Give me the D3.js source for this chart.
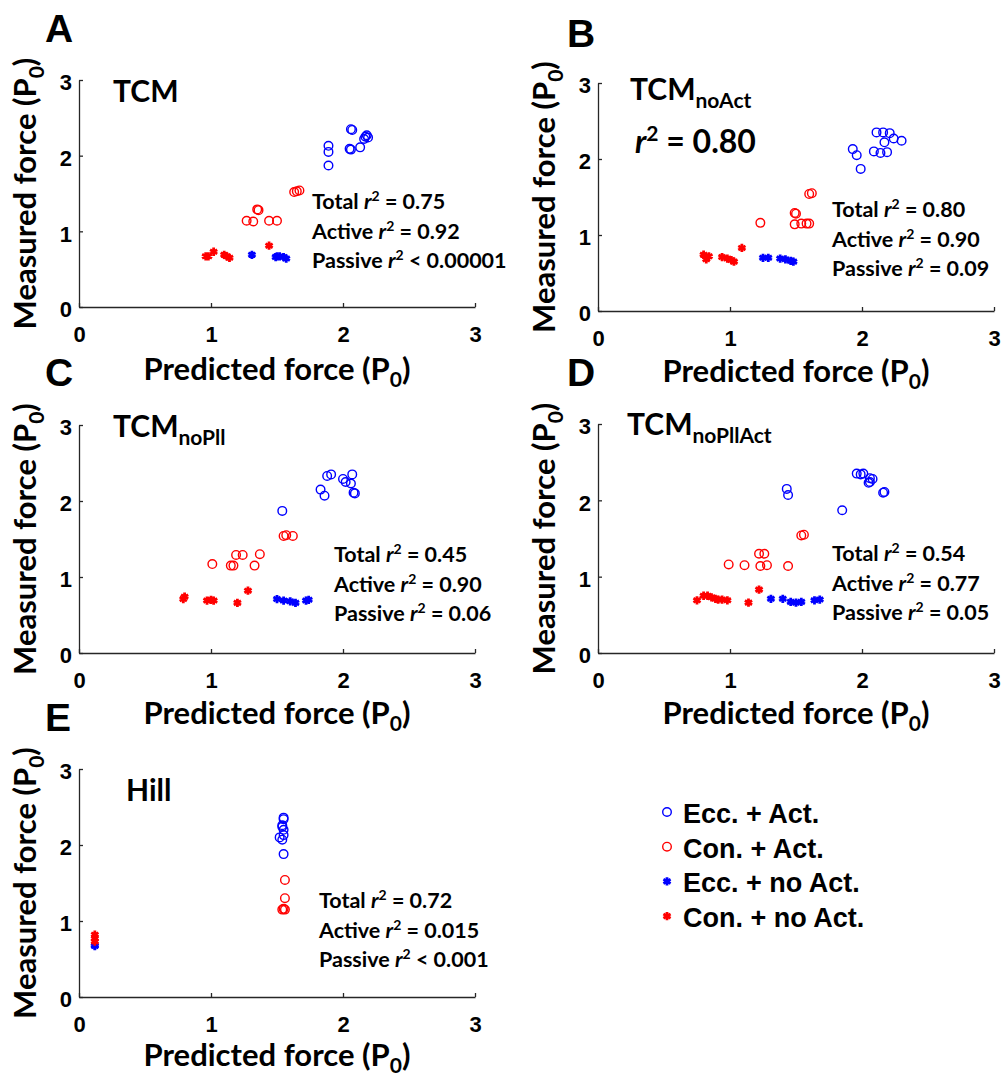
<!DOCTYPE html>
<html>
<head>
<meta charset="utf-8">
<script src="https://cdn.jsdelivr.net/npm/d3@7"></script>
<style>
  body { margin: 0; background: #fff; }
  .tick text { font-family: "Liberation Sans", Arial, sans-serif; font-weight: bold; font-size: 22px; fill: #000; }
  .axLabel, .panelTitle, .stat { font-family: Lato, "Open Sans", sans-serif; fill: #000; }
</style>
</head>
<body>
<div id="chart"></div>
<script>
// Each point is [predicted, measured] in units of P0
var aEccAct = [[1.89,2.13],[1.89,2.05],[1.89,1.87],[2.06,2.35],[2.07,2.34],[2.05,2.09],[2.06,2.08],[2.13,2.11],[2.16,2.22],[2.18,2.27],[2.19,2.24],[2.17,2.25]];
var aConAct = [[1.63,1.52],[1.67,1.54],[1.65,1.53],[1.35,1.29],[1.36,1.28],[1.27,1.14],[1.32,1.13],[1.44,1.14],[1.50,1.14]];
var aEccPas = [[1.31,0.69],[1.49,0.66],[1.52,0.67],[1.55,0.66],[1.57,0.64],[1.50,0.67]];
var aConPas = [[0.96,0.67],[0.98,0.67],[1.02,0.73],[1.10,0.69],[1.12,0.67],[1.14,0.65],[1.44,0.81]];

var bEccAct = [[2.11,2.35],[2.16,2.35],[2.21,2.34],[2.24,2.27],[2.30,2.24],[2.17,2.22],[2.09,2.10],[2.14,2.08],[2.19,2.09],[1.93,2.13],[1.96,2.05],[1.99,1.87]];
var bConAct = [[1.62,1.55],[1.60,1.54],[1.49,1.29],[1.50,1.28],[1.23,1.16],[1.49,1.14],[1.54,1.15],[1.58,1.15],[1.60,1.15]];
var bEccPas = [[1.25,0.70],[1.29,0.70],[1.38,0.69],[1.42,0.68],[1.46,0.66],[1.48,0.65]];
var bConPas = [[0.80,0.74],[0.84,0.72],[0.82,0.68],[0.94,0.71],[0.98,0.69],[1.01,0.67],[1.03,0.65],[1.09,0.83]];

var cEccAct = [[1.54,1.87],[1.83,2.15],[1.86,2.07],[1.88,2.33],[1.91,2.35],[2.00,2.29],[2.02,2.25],[2.07,2.35],[2.06,2.23],[2.08,2.11],[2.09,2.10]];
var cConAct = [[1.01,1.17],[1.15,1.15],[1.17,1.15],[1.19,1.29],[1.24,1.29],[1.33,1.15],[1.37,1.30],[1.55,1.54],[1.57,1.55],[1.62,1.54]];
var cEccPas = [[1.50,0.71],[1.55,0.69],[1.60,0.68],[1.64,0.66],[1.72,0.69],[1.74,0.70]];
var cConPas = [[0.80,0.74],[0.79,0.71],[0.97,0.69],[1.00,0.70],[1.02,0.69],[1.20,0.66],[1.28,0.82]];

var dEccAct = [[1.43,2.15],[1.44,2.07],[1.85,1.87],[1.96,2.35],[2.01,2.35],[1.99,2.34],[2.06,2.29],[2.08,2.28],[2.05,2.23],[2.06,2.24],[2.16,2.10],[2.17,2.11]];
var dConAct = [[0.99,1.16],[1.11,1.15],[1.22,1.30],[1.26,1.30],[1.23,1.14],[1.28,1.15],[1.44,1.14],[1.54,1.54],[1.56,1.55]];
var dEccPas = [[1.31,0.71],[1.40,0.71],[1.46,0.67],[1.50,0.66],[1.54,0.67],[1.64,0.69],[1.68,0.70]];
var dConPas = [[0.75,0.69],[0.80,0.75],[0.83,0.75],[0.86,0.73],[0.89,0.71],[0.91,0.70],[0.94,0.70],[0.98,0.69],[1.14,0.66],[1.22,0.83]];

var eEccAct = [[1.55,2.36],[1.55,2.34],[1.54,2.26],[1.54,2.24],[1.55,2.20],[1.55,2.13],[1.52,2.10],[1.54,2.07],[1.55,1.88]];
var eConAct = [[1.56,1.54],[1.56,1.30],[1.54,1.15],[1.56,1.15],[1.55,1.16]];
var eEccPas = [[0.12,0.67],[0.12,0.68]];
var eConPas = [[0.12,0.82],[0.12,0.77],[0.12,0.73]];

var tickVals = [0, 1, 2, 3];
var statNames = ["Total", "Active", "Passive"];
var legendLabels = ["Ecc. + Act.", "Con. + Act.", "Ecc. + no Act.", "Con. + no Act."];

var BLUE = "#0000ff";
var RED = "#ff0000";

//Panel layout: axes origin, plot height and text anchors
var panels = [
  { letter: "A", x0: 79, y0: 307, h: 227, lx: 45, ly: 42, title: "TCM", sub: "", tx: 113, ty: 102,
    stats: [["=", "0.75"], ["=", "0.92"], ["<", "0.00001"]], sx: 312, sy: 209, xly: 380,
    series: [aEccAct, aConAct, aEccPas, aConPas] },
  { letter: "B", x0: 598, y0: 311, h: 228, lx: 567, ly: 47, title: "TCM", sub: "noAct", tx: 630, ty: 100,
    stats: [["=", "0.80"], ["=", "0.90"], ["=", "0.09"]], sx: 832, sy: 217, xly: 382,
    series: [bEccAct, bConAct, bEccPas, bConPas] },
  { letter: "C", x0: 79, y0: 653, h: 228, lx: 45, ly: 386, title: "TCM", sub: "noPll", tx: 113, ty: 437,
    stats: [["=", "0.45"], ["=", "0.90"], ["=", "0.06"]], sx: 334, sy: 562, xly: 724,
    series: [cEccAct, cConAct, cEccPas, cConPas] },
  { letter: "D", x0: 598, y0: 653, h: 229, lx: 567, ly: 386, title: "TCM", sub: "noPllAct", tx: 627, ty: 435,
    stats: [["=", "0.54"], ["=", "0.77"], ["=", "0.05"]], sx: 832, sy: 561, xly: 724,
    series: [dEccAct, dConAct, dEccPas, dConPas] },
  { letter: "E", x0: 79, y0: 997, h: 228, lx: 45, ly: 731, title: "Hill", sub: "", tx: 126, ty: 801,
    stats: [["=", "0.72"], ["=", "0.015"], ["<", "0.001"]], sx: 319, sy: 908, xly: 1066,
    series: [eEccAct, eConAct, eEccPas, eConPas] }
];
var plotW = 396;

var svg = d3.select("#chart")
  .append("svg")
  .attr("width", 1002)
  .attr("height", 1081);

var asterisk = d3.symbol().type(d3.symbolAsterisk).size(48);

//draw a single marker: open circle for active, asterisk for passive
function drawMarker(sel, kind, color) {
  if (kind === "open") {
    sel.append("circle")
      .attr("r", 4.3)
      .attr("fill", "none")
      .attr("stroke", color)
      .attr("stroke-width", 1.4);
  }
  else {
    sel.append("path")
      .attr("d", asterisk)
      .attr("fill", "none")
      .attr("stroke", color)
      .attr("stroke-width", 2.8);
  }
}

var seriesStyle = [
  { kind: "open", color: BLUE },
  { kind: "open", color: RED },
  { kind: "star", color: BLUE },
  { kind: "star", color: RED }
];

panels.forEach(function(p) {
  var xScale = d3.scaleLinear().domain([0, 3]).range([p.x0, p.x0 + plotW]);
  var yScale = d3.scaleLinear().domain([0, 3]).range([p.y0, p.y0 - p.h]);

  var xAxis = d3.axisBottom(xScale).tickValues(tickVals).tickFormat(d3.format("d"))
    .tickSizeInner(-4).tickSizeOuter(0).tickPadding(19);
  var yAxis = d3.axisLeft(yScale).tickValues(tickVals).tickFormat(d3.format("d"))
    .tickSizeInner(-4).tickSizeOuter(0).tickPadding(7);

  var gx = svg.append("g")
    .attr("transform", "translate(0," + p.y0 + ")")
    .call(xAxis);
  var gy = svg.append("g")
    .attr("transform", "translate(" + p.x0 + ",0)")
    .call(yAxis);
  [gx, gy].forEach(function(g) {
    g.select(".domain").attr("stroke", "#262626").attr("stroke-width", 1.3);
    g.selectAll(".tick line").attr("stroke", "#262626").attr("stroke-width", 1.3);
  });
  gy.selectAll(".tick text").attr("dy", "0.45em");

  // panel letter
  svg.append("text")
    .attr("x", p.lx)
    .attr("y", p.ly)
    .attr("font-family", "'Liberation Sans', Arial, sans-serif")
    .attr("font-weight", "bold")
    .attr("font-size", 39)
    .text(p.letter);

  // x axis label
  var xl = svg.append("text")
    .attr("class", "axLabel")
    .attr("x", p.x0 + plotW / 2)
    .attr("y", p.xly)
    .attr("text-anchor", "middle")
    .attr("font-weight", "bold")
    .attr("font-size", 31);
  xl.append("tspan").text("Predicted force (P");
  xl.append("tspan").attr("font-size", 21).attr("dy", 7).text("0");
  xl.append("tspan").attr("dy", -7).text(")");

  // y axis label
  var yl = svg.append("text")
    .attr("class", "axLabel")
    .attr("transform", "translate(" + (p.x0 - 43) + "," + (p.y0 - p.h / 2) + ")rotate(-90)")
    .attr("text-anchor", "middle")
    .attr("font-weight", "bold")
    .attr("font-size", 31);
  yl.append("tspan").text("Measured force (P");
  yl.append("tspan").attr("font-size", 21).attr("dy", 8).text("0");
  yl.append("tspan").attr("dy", -8).text(")");

  // model title
  var tt = svg.append("text")
    .attr("class", "panelTitle")
    .attr("x", p.tx)
    .attr("y", p.ty)
    .attr("font-weight", "bold")
    .attr("font-size", 30);
  tt.append("tspan").text(p.title);
  if (p.sub) {
    tt.append("tspan").attr("font-size", 21).attr("dy", 8).text(p.sub);
  }

  // r2 statistics
  p.stats.forEach(function(s, i) {
    var st = svg.append("text")
      .attr("class", "stat")
      .attr("x", p.sx)
      .attr("y", p.sy + i * 29.5)
      .attr("font-weight", "bold")
      .attr("font-size", 21.5);
    st.append("tspan").text(statNames[i] + " ");
    st.append("tspan").attr("font-style", "italic").text("r");
    st.append("tspan").attr("font-size", 14).attr("dy", -8).text("2");
    st.append("tspan").attr("dy", 8).text(" " + s[0] + " " + s[1]);
  });

  // data points
  p.series.forEach(function(data, k) {
    var style = seriesStyle[k];
    svg.append("g")
      .selectAll("g")
      .data(data)
      .enter()
      .append("g")
      .attr("transform", function(d) {
        return "translate(" + xScale(d[0]) + "," + yScale(d[1]) + ")";
      })
      .each(function() {
        drawMarker(d3.select(this), style.kind, style.color);
      });
  });
});

// big r2 in panel B
var big = svg.append("text")
  .attr("class", "panelTitle")
  .attr("x", 635)
  .attr("y", 153)
  .attr("font-weight", "bold")
  .attr("font-size", 32);
big.append("tspan").attr("font-style", "italic").text("r");
big.append("tspan").attr("font-size", 21).attr("dy", -12).text("2");
big.append("tspan").attr("dy", 12).text(" = 0.80");

// legend
var legend = svg.append("g");
legendLabels.forEach(function(label, i) {
  var row = legend.append("g")
    .attr("transform", "translate(667," + (812 + i * 34.7) + ")");
  drawMarker(row, seriesStyle[i].kind, seriesStyle[i].color);
  row.append("text")
    .attr("x", 16)
    .attr("y", 11)
    .attr("font-family", "'Liberation Sans', Arial, sans-serif")
    .attr("font-weight", "bold")
    .attr("font-size", 27)
    .text(label);
});
</script>
</body>
</html>
